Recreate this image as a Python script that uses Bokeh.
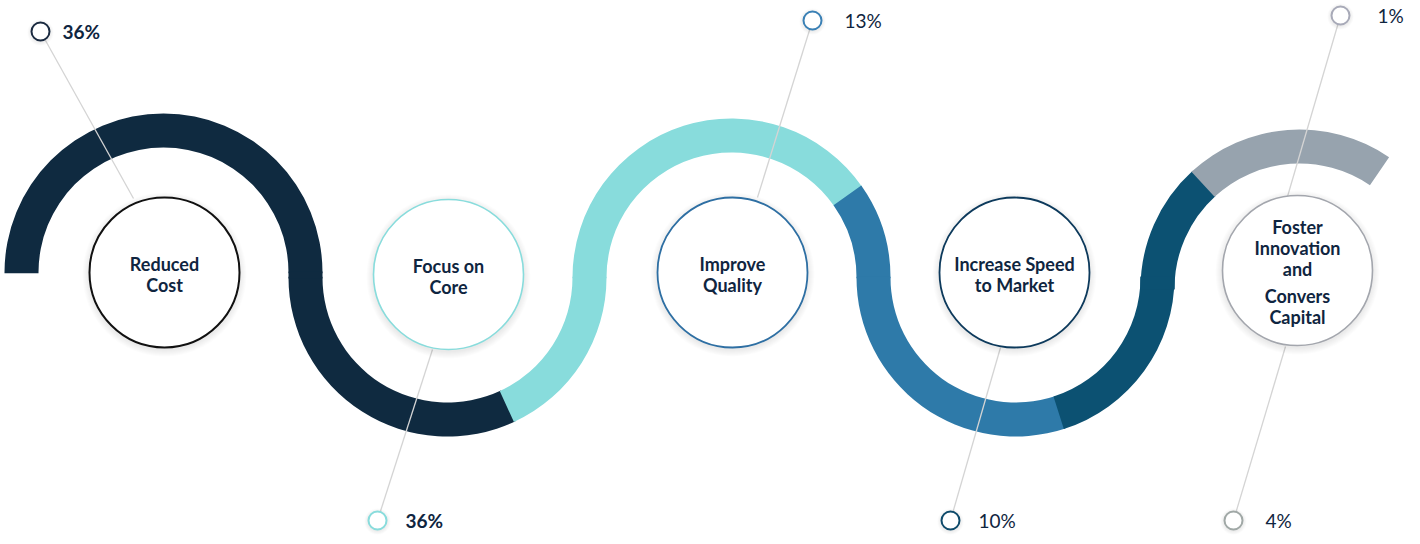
import math
from bokeh.plotting import figure
from bokeh.models import Range1d, ColumnDataSource
from bokeh.core.properties import value
from bokeh.embed import file_html
from bokeh.resources import INLINE

W, H = 1420, 544

# ---------------- data ----------------
categories = ["Reduced\nCost", "Focus on\nCore", "Improve\nQuality",
              "Increase Speed\nto Market",
              "Foster\nInnovation\nand\n\nConvers\nCapital"]
share_values = [36, 36, 13, 10, 4, 1]
share_labels = ["36%", "36%", "13%", "10%", "4%", "1%"]
share_category = [0, 1, 2, 3, 4, 4]
share_bold = [True, True, False, False, False, False]

band_colors = ["#0f2a40", "#88dcdc", "#2e7aa9", "#0c5172", "#97a3ae"]
ring_colors = ["#111111", "#88dcdc", "#2e6fa3", "#0d3a5c", "#a3a6ad"]
callout_colors = ["#1a2a40", "#88dcdc", "#3a80b5", "#0e4a6a", "#a0a8a6", "#a8aab8"]
TEXT_COLOR = "#0f2540"

# ---------------- layout (pixel geometry, image coords y down) ----------------
def Y(y):
    return H - y

arc_cx = [163, 447, 731, 1015, 1299]
arc_cy = [272, 277, 277, 277, 288]
R_IN, R_OUT = 125, 159
# (arc index, start deg, end deg, category index) -- anticlockwise, math angles
pieces = [(0, 0, 180, 0), (1, 180, 295, 0), (1, 295, 360, 1),
          (2, 35, 180, 1), (2, 0, 35, 2), (3, 180, 288, 2), (3, 288, 360, 3),
          (4, 132.5, 180, 3), (4, 56, 132.5, 4)]

circle_x = [164, 448, 732, 1014, 1297]
circle_y = [272, 274, 272, 272, 270]
CIRCLE_R = 75

callout_xy = [(40, 31), (377, 520), (812, 20), (950, 520), (1233, 520), (1340, 15)]
callout_target = [(133, 198), (432, 349), (757, 197), (1000, 347), (1285, 346), (1287, 196)]
text_dx = [22, 28, 32, 28, 32, 37]

p = figure(width=W, height=H, x_range=Range1d(0, W), y_range=Range1d(0, H),
           output_backend="svg", toolbar_location=None, min_border=0)
p.xaxis.visible = False
p.yaxis.visible = False
p.grid.visible = False
p.outline_line_color = None
p.background_fill_color = "white"
p.border_fill_color = "white"

# ---------------- band ----------------
band = dict(x=[], y=[], s=[], e=[], c=[])
for a, s, e, ci in pieces:
    band["x"].append(arc_cx[a])
    band["y"].append(Y(arc_cy[a]))
    band["s"].append(math.radians(s - 0.3))
    band["e"].append(math.radians(e + 0.3))
    band["c"].append(band_colors[ci])
p.annular_wedge(x="x", y="y", inner_radius=R_IN, outer_radius=R_OUT,
                start_angle="s", end_angle="e", fill_color="c", line_color=None,
                direction="anticlock", source=ColumnDataSource(band))
# straight connectors where consecutive arc centres differ in height
for a in range(len(arc_cx) - 1):
    if arc_cy[a] != arc_cy[a + 1]:
        ci = [pc[3] for pc in pieces if pc[0] == a + 1][0]
        p.quad(left=arc_cx[a] + R_IN, right=arc_cx[a] + R_OUT,
               bottom=Y(arc_cy[a + 1]) - 1, top=Y(arc_cy[a]) + 1,
               fill_color=band_colors[ci], line_color=None)

# ---------------- callout lines ----------------
p.segment(x0=[c[0] for c in callout_xy], y0=[Y(c[1]) for c in callout_xy],
          x1=[t[0] for t in callout_target], y1=[Y(t[1]) for t in callout_target],
          line_color="#d4d4d4", line_width=1.3)

# ---------------- shadows ----------------
for k in range(1, 8):
    p.circle(x=circle_x, y=[Y(v) - 2 for v in circle_y], radius=CIRCLE_R + k,
             fill_color="#000000", fill_alpha=0.010, line_color=None)
    p.circle(x=[c[0] for c in callout_xy], y=[Y(c[1]) - 1 for c in callout_xy],
             radius=9 + k * 0.6, fill_color="#000000", fill_alpha=0.012, line_color=None)

# ---------------- main circles ----------------
p.circle(x=circle_x, y=[Y(v) for v in circle_y], radius=CIRCLE_R,
         fill_color="white", line_color=ring_colors, line_width=[2, 1.6, 1.8, 1.8, 1.6])

# labels
for i, lab in enumerate(categories):
    lines = lab.split("\n")
    offs = []
    cur = 0.0
    for ln in lines:
        if ln == "":
            cur += 6
            continue
        offs.append((ln, cur))
        cur += 21
    total = offs[-1][1]
    for ln, o in offs:
        p.text(x=[circle_x[i]], y=[Y(circle_y[i] + 1.5 - total / 2 + o)], text=[ln],
               text_align="center", text_baseline="middle",
               text_font=value("Lato"), text_font_style="bold",
               text_font_size="18px", text_color=TEXT_COLOR)

# ---------------- callout circles and share labels ----------------
p.circle(x=[c[0] for c in callout_xy], y=[Y(c[1]) for c in callout_xy], radius=9,
         fill_color="white", line_color=callout_colors, line_width=2)
for k, lab in enumerate(share_labels):
    p.text(x=[callout_xy[k][0] + text_dx[k]], y=[Y(callout_xy[k][1])], text=[lab],
           text_align="left", text_baseline="middle",
           text_font=value("Lato"),
           text_font_style="bold" if share_bold[k] else "normal",
           text_font_size="19px", text_color=TEXT_COLOR)

open("out.html", "w").write(file_html(p, INLINE))
